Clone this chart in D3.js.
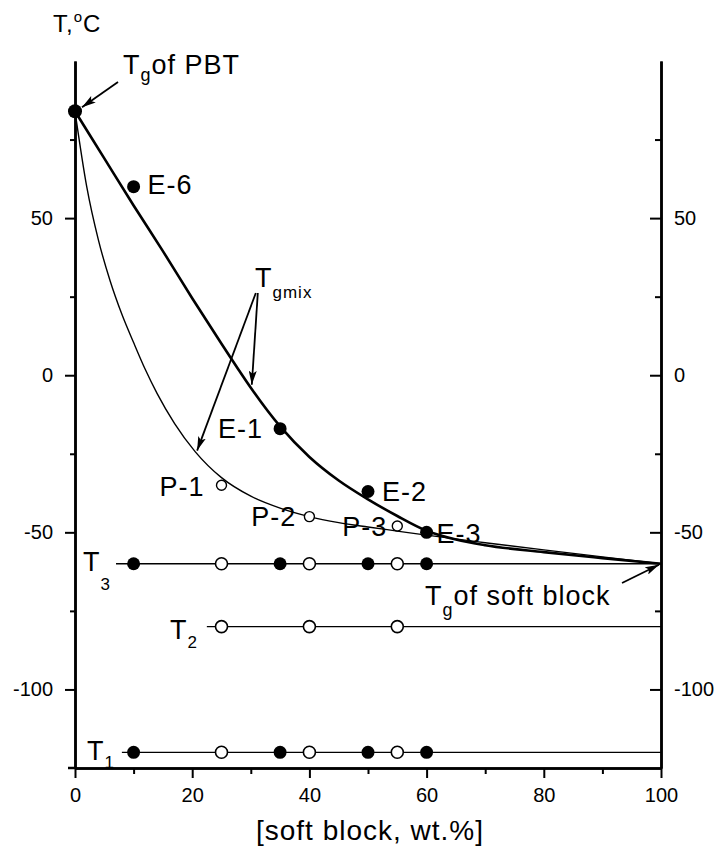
<!DOCTYPE html>
<html>
<head>
<meta charset="utf-8">
<script src="https://cdn.jsdelivr.net/npm/d3@7/dist/d3.min.js"></script>
<style>
  html, body { margin: 0; padding: 0; background: #fff; }
  svg { display: block; font-family: "Liberation Sans", Arial, Helvetica, sans-serif; }
</style>
</head>
<body>
<svg id="chart" width="718" height="847"></svg>
<script>
// Axis ticks
const xMajorTicks = [0, 20, 40, 60, 80, 100];
const xMinorTicks = [10, 30, 50, 70, 90];
const yMajorTicks = [-100, -50, 0, 50];
const yMinorTicks = [-75, -25, 25, 75];

// Glass transitions of the pure components
const tgPBT = { x: 0, y: 84 };
const tgSoft = { x: 100, y: -60 };

// E-series copolymers (filled) and P-series (open)
const eNames = ["E-6", "E-1", "E-2", "E-3"];
const eSoft = [10, 35, 50, 60];
const eTg = [60, -17, -37, -50];
const pNames = ["P-1", "P-2", "P-3"];
const pSoft = [25, 40, 55];
const pTg = [-35, -45, -48];

// Tgmix curves (wt.% soft block, °C)
const thickCurveX = [0, 5, 10, 15, 20, 25, 28, 30, 35, 40, 45, 50, 55, 60, 65, 70, 80, 90, 100];
const thickCurveY = [84, 69, 54, 39.5, 24.5, 10, 1.5, -4, -16.3, -26, -33.5, -39.5, -44.8, -49.5, -52.3, -54.1, -56.3, -58.2, -60];
const thinCurveX = [0, 2, 4, 6, 8, 10, 12, 14, 17, 20.5, 25, 30, 35, 40, 45, 50, 55, 60, 70, 80, 90, 100];
const thinCurveY = [84, 60, 43, 30, 19.4, 10.4, 1.8, -5.8, -15.4, -24.3, -32.6, -38.5, -42.3, -45, -46.9, -48.3, -49.6, -50.9, -53.3, -55.6, -57.8, -60];

// Transition lines T1, T2, T3
const t3Level = -60, t3Start = 7;
const t3Filled = [10, 35, 50, 60];
const t3Open = [25, 40, 55];
const t2Level = -80, t2Start = 22.5;
const t2Open = [25, 40, 55];
const t1Level = -120, t1Start = 8;
const t1Filled = [10, 35, 50, 60];
const t1Open = [25, 40, 55];

const svg = d3.select("#chart");
const plotL = 75, plotR = 661, plotT = 61, plotB = 768;

const x = d3.scaleLinear().domain([0, 100]).range([plotL, plotR]);
const y = d3.scaleLinear().domain([-125, 100]).range([plotB, plotT]);

const axisW = 2.5;
const tickFont = "20px";
const fmt = d => String(d);

// Left axis
const gl = svg.append("g").attr("transform", `translate(${plotL},0)`);
gl.call(d3.axisLeft(y).tickValues(yMajorTicks).tickSize(10).tickSizeOuter(0).tickPadding(12).tickFormat(fmt));
gl.append("g").call(d3.axisLeft(y).tickValues(yMinorTicks).tickSize(5).tickSizeOuter(0).tickFormat(""));

// Right axis, ticks pointing inward
const gr = svg.append("g").attr("transform", `translate(${plotR},0)`);
gr.call(d3.axisRight(y).tickValues(yMajorTicks).tickSize(-11).tickSizeOuter(0).tickPadding(13).tickFormat(fmt));
gr.append("g").call(d3.axisRight(y).tickValues(yMinorTicks).tickSize(-6).tickSizeOuter(0).tickFormat(""));

// Bottom axis
const gb = svg.append("g").attr("transform", `translate(0,${plotB})`);
gb.call(d3.axisBottom(x).tickValues(xMajorTicks).tickSize(10).tickSizeOuter(0).tickPadding(10).tickFormat(fmt));
gb.append("g").call(d3.axisBottom(x).tickValues(xMinorTicks).tickSize(6).tickSizeOuter(0).tickFormat(""));
gb.append("line").attr("x1", plotL - 7).attr("x2", plotL).attr("y1", 0).attr("y2", 0)
  .attr("stroke", "#000").attr("stroke-width", axisW);

svg.selectAll(".domain").attr("stroke", "#000").attr("stroke-width", axisW);
svg.selectAll(".tick line").attr("stroke", "#000").attr("stroke-width", 2);
svg.selectAll(".tick text").attr("fill", "#000").style("font-size", tickFont)
  .style("font-family", "'Liberation Sans', Arial, sans-serif");

// Axis titles
const yTitle = svg.append("text").attr("x", x(0) - 22).attr("y", 32)
  .attr("font-size", 24).attr("fill", "#000").attr("letter-spacing", 1);
yTitle.append("tspan").text("T,");
yTitle.append("tspan").text("o").attr("font-size", 15).attr("dy", -10);
yTitle.append("tspan").text("C").attr("dy", 10);

svg.append("text").attr("x", (plotL + plotR) / 2 + 2).attr("y", 840)
  .attr("text-anchor", "middle").attr("font-size", 28).attr("letter-spacing", 1)
  .attr("fill", "#000").text("[soft block, wt.%]");

// Arrow marker
const defs = svg.append("defs");
defs.append("marker").attr("id", "arrow").attr("viewBox", "0 0 14 8")
  .attr("refX", 14).attr("refY", 4).attr("markerWidth", 14).attr("markerHeight", 8)
  .attr("markerUnits", "userSpaceOnUse").attr("orient", "auto")
  .append("path").attr("d", "M0,0 L14,4 L0,8 L3,4 Z").attr("fill", "#000");

// Horizontal transition lines
const hLine = (x0, lev) => svg.append("line")
  .attr("x1", x(x0)).attr("x2", x(100)).attr("y1", y(lev)).attr("y2", y(lev))
  .attr("stroke", "#000").attr("stroke-width", 1.3);
hLine(t3Start, t3Level);
hLine(t2Start, t2Level);
hLine(t1Start, t1Level);

// Tgmix curves
const line = d3.line().x(d => x(d[0])).y(d => y(d[1])).curve(d3.curveMonotoneX);
svg.append("path").datum(thinCurveX.map((v, i) => [v, thinCurveY[i]]))
  .attr("d", line).attr("fill", "none").attr("stroke", "#000").attr("stroke-width", 1.4);
svg.append("path").datum(thickCurveX.map((v, i) => [v, thickCurveY[i]]))
  .attr("d", line).attr("fill", "none").attr("stroke", "#000").attr("stroke-width", 2.6);

// Markers
const filled = (xs, lev, r) => svg.append("g").selectAll("circle").data(xs).join("circle")
  .attr("cx", d => x(d)).attr("cy", y(lev)).attr("r", r).attr("fill", "#000");
const open = (xs, lev, r, sw) => svg.append("g").selectAll("circle").data(xs).join("circle")
  .attr("cx", d => x(d)).attr("cy", y(lev)).attr("r", r)
  .attr("fill", "#fff").attr("stroke", "#000").attr("stroke-width", sw);

filled(t3Filled, t3Level, 6.5);
open(t3Open, t3Level, 6, 1.6);
open(t2Open, t2Level, 6, 1.6);
filled(t1Filled, t1Level, 6.5);
open(t1Open, t1Level, 6, 1.6);

svg.append("circle").attr("cx", x(tgPBT.x)).attr("cy", y(tgPBT.y)).attr("r", 7).attr("fill", "#000");

svg.append("g").selectAll("circle").data(eSoft).join("circle")
  .attr("cx", d => x(d)).attr("cy", (d, i) => y(eTg[i])).attr("r", 6.5).attr("fill", "#000");
svg.append("g").selectAll("circle").data(pSoft).join("circle")
  .attr("cx", d => x(d)).attr("cy", (d, i) => y(pTg[i])).attr("r", 5)
  .attr("fill", "#fff").attr("stroke", "#000").attr("stroke-width", 1.4);

// Sample labels
const labelSize = 27;
const eOffsets = [[14, 7, "start"], [-17, 9, "end"], [14, 10, "start"], [10, 11, "start"]];
const pOffsets = [[-17, 11, "end"], [-13, 9, "end"], [-10, 10, "end"]];
eNames.forEach((n, i) => svg.append("text")
  .attr("x", x(eSoft[i]) + eOffsets[i][0]).attr("y", y(eTg[i]) + eOffsets[i][1])
  .attr("text-anchor", eOffsets[i][2]).attr("font-size", labelSize).attr("letter-spacing", 1)
  .attr("fill", "#000").text(n));
pNames.forEach((n, i) => svg.append("text")
  .attr("x", x(pSoft[i]) + pOffsets[i][0]).attr("y", y(pTg[i]) + pOffsets[i][1])
  .attr("text-anchor", pOffsets[i][2]).attr("font-size", labelSize).attr("letter-spacing", 1)
  .attr("fill", "#000").text(n));

// Text with a subscript
function subText(px, py, main, sub, rest, subDy, subSize) {
  const t = svg.append("text").attr("x", px).attr("y", py)
    .attr("font-size", labelSize).attr("letter-spacing", 1).attr("fill", "#000");
  t.append("tspan").text(main);
  t.append("tspan").text(sub).attr("font-size", subSize).attr("dy", subDy);
  if (rest) t.append("tspan").text(rest).attr("dy", -subDy);
  return t;
}

subText(x(0) + 48, 74, "T", "g", "of PBT", 7, 18);
subText(x(100) - 236, 605, "T", "g", "of soft block", 11, 18);
subText(255, 287, "T", "gmix", null, 11, 17);
subText(83, y(t3Level) + 7, "T", "3", null, 19, 17);
subText(170, y(t2Level) + 12, "T", "2", null, 9, 17);
subText(87, y(t1Level) + 8, "T", "1", null, 8, 17);

// Annotation arrows
const arrow = (x1, y1, x2, y2) => svg.append("line")
  .attr("x1", x1).attr("y1", y1).attr("x2", x2).attr("y2", y2)
  .attr("stroke", "#000").attr("stroke-width", 1.8).attr("marker-end", "url(#arrow)");
arrow(x(0) + 43, 82, x(tgPBT.x) + 7, y(tgPBT.y) - 4);
arrow(x(100) - 39, 583, x(tgSoft.x) - 2, y(tgSoft.y) + 1);
arrow(x(30) + 7, 293, x(30) + 1, y(-4) - 3);
arrow(x(30) + 5, 293, x(20.5) + 2, y(-24.3) - 1);
</script>
</body>
</html>
